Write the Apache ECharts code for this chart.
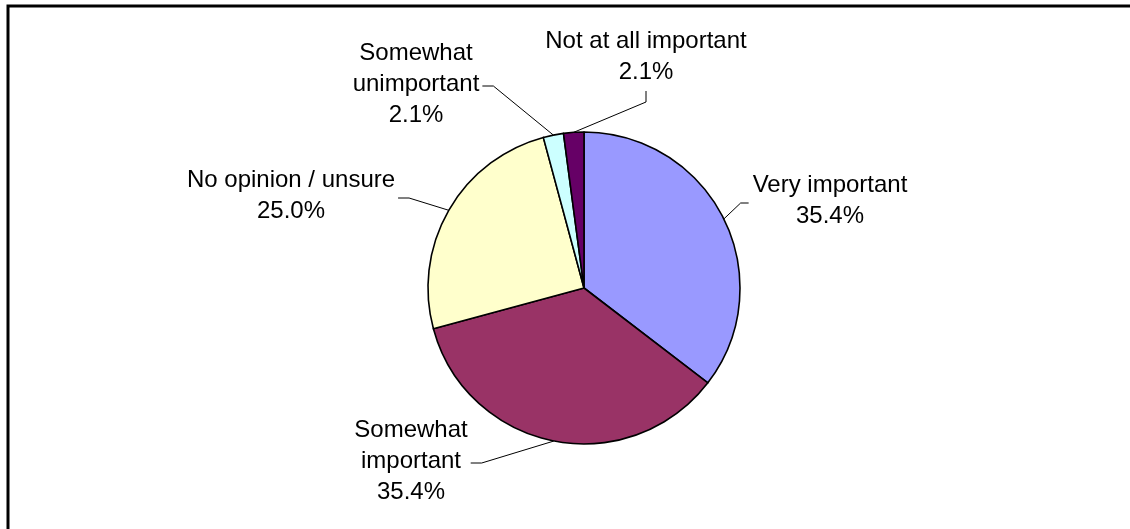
<!DOCTYPE html>
<html>
<head>
<meta charset="utf-8">
<script src="https://cdn.jsdelivr.net/npm/echarts@6/dist/echarts.min.js"></script>
<style>
  html, body { margin: 0; padding: 0; background: #fff; }
  #chart { width: 1130px; height: 529px; }
</style>
</head>
<body>
<div id="chart"></div>
<script>
// Survey answers, clockwise from 12 o'clock
const categories = [
  'Very important',
  'Somewhat important',
  'No opinion / unsure',
  'Somewhat unimportant',
  'Not at all important'
];
const shares = [35.4, 35.4, 25.0, 2.1, 2.1];
const colors = ['#9999FF', '#993366', '#FFFFCC', '#CCFFFF', '#660066'];

// How each category name wraps in its label
const wrapped = [
  'Very important',
  'Somewhat\nimportant',
  'No opinion / unsure',
  'Somewhat\nunimportant',
  'Not at all important'
];

// Pie geometry
const CX = 584, CY = 288, R = 156;

// Label block centres (px) and the side of the block the leader line meets
const labelSpots = [
  [830, 201],
  [411, 461],
  [291, 196],
  [416, 84],
  [646, 57]
];
const leaderSide = ['left', 'right', 'right', 'right', 'bottom'];

// Mid-angle of each slice, measured clockwise from 12 o'clock
const total = shares.reduce((a, b) => a + b, 0);
const midAngles = [];
let acc = 0;
shares.forEach(v => {
  midAngles.push((acc + v / 2) / total * Math.PI * 2);
  acc += v;
});

const chart = echarts.init(document.getElementById('chart'), null, { renderer: 'canvas' });

chart.setOption({
  animation: false,
  backgroundColor: '#ffffff',
  graphic: [
    {
      type: 'rect',
      shape: { x: 8, y: 6, width: 1200, height: 600 },
      style: { fill: 'none', stroke: '#000', lineWidth: 3 },
      z: 10
    }
  ],
  series: [
    {
      type: 'pie',
      center: [CX, CY],
      radius: R,
      startAngle: 90,
      clockwise: true,
      avoidLabelOverlap: false,
      data: categories.map((name, i) => ({
        name: name,
        value: shares[i],
        itemStyle: { color: colors[i] }
      })),
      itemStyle: { borderColor: '#000', borderWidth: 1.6 },
      emphasis: { disabled: true },
      label: {
        show: true,
        position: 'outside',
        color: '#000',
        fontFamily: 'Liberation Sans, Arial, sans-serif',
        fontSize: 24,
        lineHeight: 31,
        align: 'center',
        formatter: p => wrapped[p.dataIndex] + '\n' + shares[p.dataIndex].toFixed(1) + '%'
      },
      labelLine: {
        show: true,
        lineStyle: { color: '#000', width: 1 }
      },
      labelLayout: function (params) {
        const i = params.dataIndex;
        const s = labelSpots[i];
        const w = params.labelRect.width, h = params.labelRect.height;
        const a = midAngles[i];
        const anchor = [CX + R * Math.sin(a), CY - R * Math.cos(a)];
        let end, elbow;
        switch (leaderSide[i]) {
          case 'left':
            end = [s[0] - w / 2 - 4, s[1] + 2];
            elbow = [end[0] - 8, end[1]];
            break;
          case 'right':
            end = [s[0] + w / 2 + 3, s[1] + 2];
            elbow = [end[0] + 11, end[1]];
            break;
          default:
            end = [s[0], s[1] + h / 2 + 3];
            elbow = [end[0], end[1] + 11];
        }
        return {
          x: s[0],
          y: s[1],
          align: 'center',
          verticalAlign: 'middle',
          labelLinePoints: [anchor, elbow, end]
        };
      }
    }
  ]
});
</script>
</body>
</html>
